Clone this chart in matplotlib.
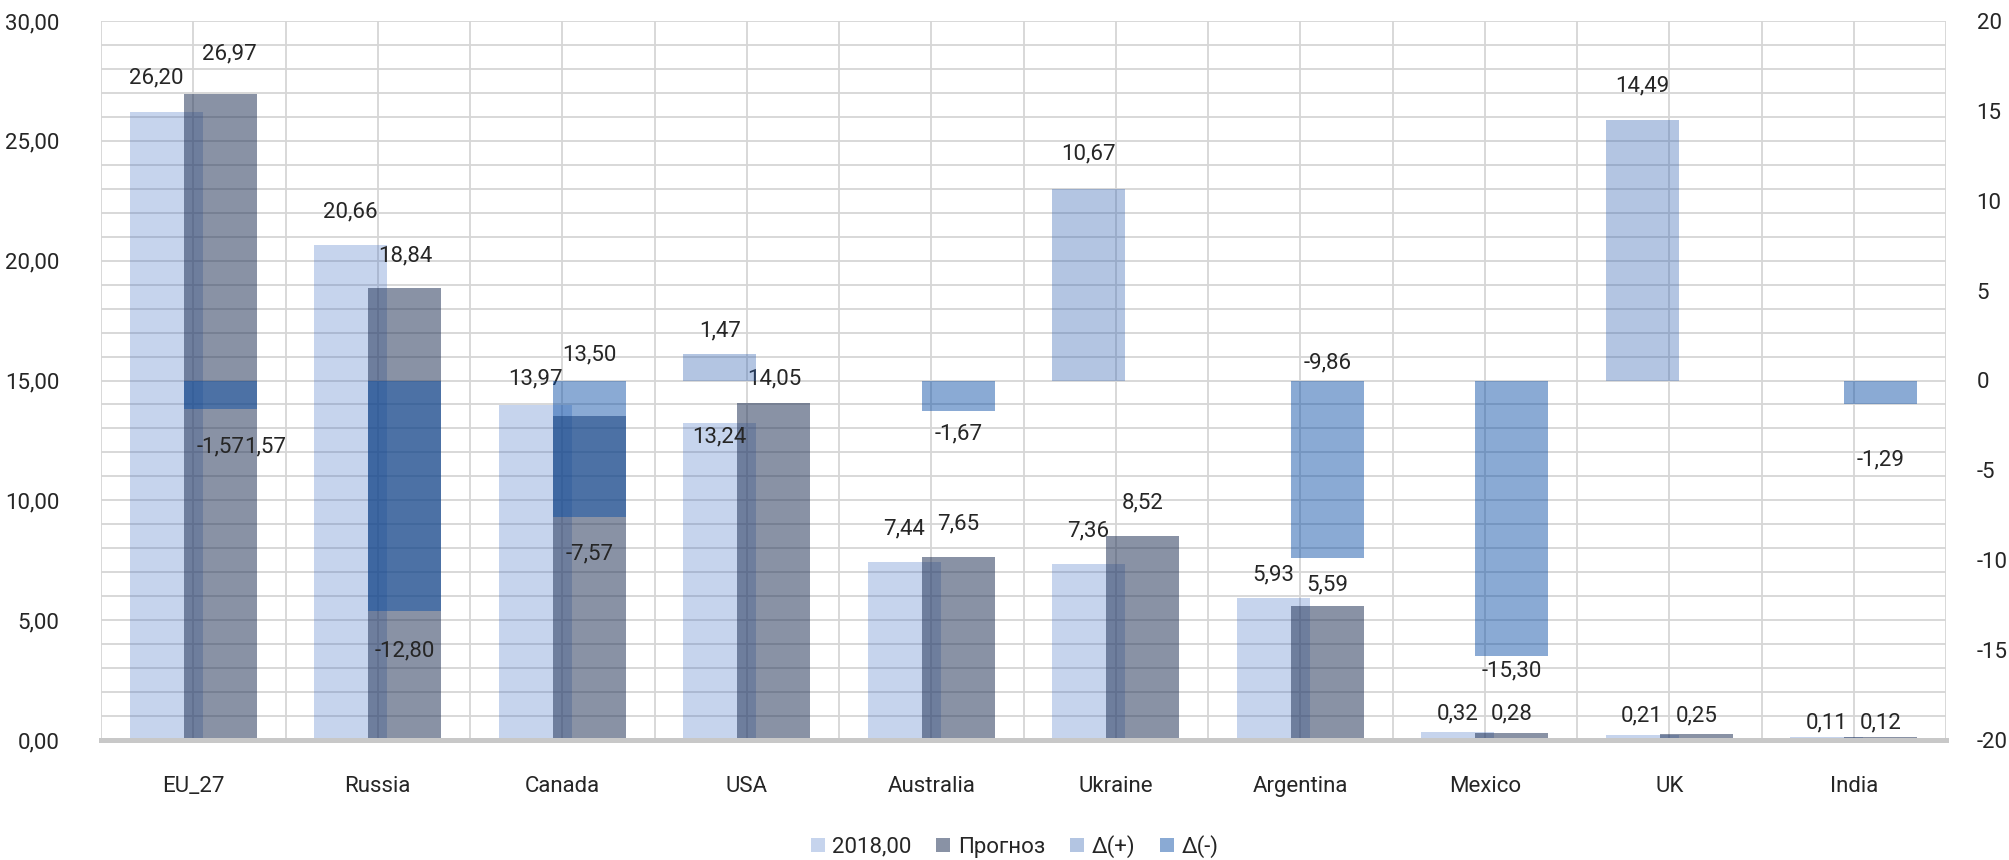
import numpy as np
import matplotlib
matplotlib.use("Agg")
import matplotlib.pyplot as plt
from matplotlib.ticker import FixedLocator, MultipleLocator

# export volumes by country: 2018 vs forecast, plus change on a second axis
countries = ["EU_27", "Russia", "Canada", "USA", "Australia",
             "Ukraine", "Argentina", "Mexico", "UK", "India"]
vals_2018 = [26.20, 20.66, 13.97, 13.24, 7.44, 7.36, 5.93, 0.32, 0.21, 0.11]
vals_forecast = [26.97, 18.84, 13.50, 14.05, 7.65, 8.52, 5.59, 0.28, 0.25, 0.12]
delta_pos = [np.nan, np.nan, np.nan, 1.47, np.nan, 10.67, np.nan, np.nan, 14.49, np.nan]
delta_neg = [-1.57, -12.80, -7.57, np.nan, -1.67, np.nan, -9.86, -15.30, np.nan, -1.29]
legend_names = ["2018,00", "Прогноз", "Δ(+)", "Δ(-)"]

# label placement (pixel offset of label centre from bar end, + is up)
off_2018 = [34, 33, 26, -14, 33, 33, 23, 18, 19, 14]
off_fc = [40, 33, 62, 24, 33, 33, 21, 19, 18, 14]
off_pos = [34, 34, 34, 23, 34, 35, 34, 34, 34, 34]
off_neg = [-38, -40, -37, -38, -23, -38, 18, -15, -38, -56]

plt.rcParams["font.family"] = ["Roboto", "DejaVu Sans"]
plt.rcParams["axes.unicode_minus"] = False
txt_color = "#262626"
fs = 16

fig = plt.figure(figsize=(20.09, 8.6), dpi=100)
ax = fig.add_axes([101 / 2009, 1 - 740 / 860, (1946 - 101) / 2009, (740 - 21) / 860])
ax2 = ax.twinx()

x = np.arange(len(countries))
w = 0.395
left = x - 0.147
right = x + 0.147

c_2018 = ("#4472c4", 0.30)
c_fc = ("#1e2f54", 0.52)
c_pos = ("#2d5fb0", 0.36)
c_neg = ("#0a4ea6", 0.48)

b1 = ax.bar(left, vals_2018, w, color=c_2018[0], alpha=c_2018[1], zorder=2, lw=0)
b2 = ax.bar(right, vals_forecast, w, color=c_fc[0], alpha=c_fc[1], zorder=2, lw=0)
b3 = ax2.bar(left, delta_pos, w, color=c_pos[0], alpha=c_pos[1], zorder=2, lw=0)
b4 = ax2.bar(right, delta_neg, w, color=c_neg[0], alpha=c_neg[1], zorder=2, lw=0)

ax.set_xlim(-0.5, len(countries) - 0.5)
ax.set_ylim(0, 30)
ax2.set_ylim(-20, 20)

# grid: every unit horizontally, every half category vertically
left_ticks = np.arange(0, 31, 5)
ax.set_yticks(left_ticks)
ax.set_yticklabels([f"{v:.2f}".replace(".", ",") for v in left_ticks])
ax.yaxis.set_minor_locator(MultipleLocator(1))
ax.set_xticks(x)
ax.set_xticklabels(countries)
ax.xaxis.set_minor_locator(FixedLocator(np.arange(-0.5, len(countries), 1.0)))
ax.grid(True, which="both", color="#d6d6d6", lw=1.3, zorder=0)
ax.set_axisbelow(True)
ax2.set_yticks(np.arange(-20, 21, 5))

ax.tick_params(axis="both", which="both", length=0, labelsize=fs, colors=txt_color)
ax.tick_params(axis="x", pad=26)
ax.tick_params(axis="y", pad=30)
ax2.tick_params(axis="y", length=0, labelsize=fs, colors=txt_color, pad=22)

for a in (ax, ax2):
    for s in a.spines.values():
        s.set_visible(False)
ax.axhline(0, color="#c8c8c8", lw=3.6, zorder=5, clip_on=False)


def fmt(v):
    return f"{v:.2f}".replace(".", ",")


def label(axis, xpos, yval, dy, dx=0, text=None, ha="center"):
    axis.annotate(text if text is not None else fmt(yval), (xpos, yval),
                  xytext=(dx, dy), textcoords="offset pixels",
                  ha=ha, va="center", fontsize=fs, color=txt_color, zorder=6)


for i in range(len(countries)):
    label(ax, left[i], vals_2018[i], off_2018[i], dx=-10 if i == 0 else 0)
    label(ax, right[i], vals_forecast[i], off_fc[i], dx=9 if i == 0 else 0)
    if not np.isnan(delta_pos[i]):
        label(ax2, left[i], delta_pos[i], off_pos[i])
    if not np.isnan(delta_neg[i]):
        # labels pushed above the bar are anchored on the zero line
        anchor = 0 if off_neg[i] > 0 else delta_neg[i]
        ax2.annotate(fmt(delta_neg[i]), (right[i], anchor),
                     xytext=(0, off_neg[i]), textcoords="offset pixels",
                     ha="center", va="center", fontsize=fs, color=txt_color, zorder=6)

# overlapping second label next to the EU_27 change
label(ax2, right[0], delta_neg[0], off_neg[0], dx=24, text=fmt(-delta_neg[0]), ha="left")

fig.legend([b1, b2, b3, b4], legend_names, loc="center", bbox_to_anchor=(0.505, 0.016),
           ncol=4, frameon=False, fontsize=fs, handlelength=0.63, handleheight=0.63,
           handletextpad=0.35, columnspacing=1.1, labelcolor=txt_color)

fig.savefig("out.png", dpi=100)
